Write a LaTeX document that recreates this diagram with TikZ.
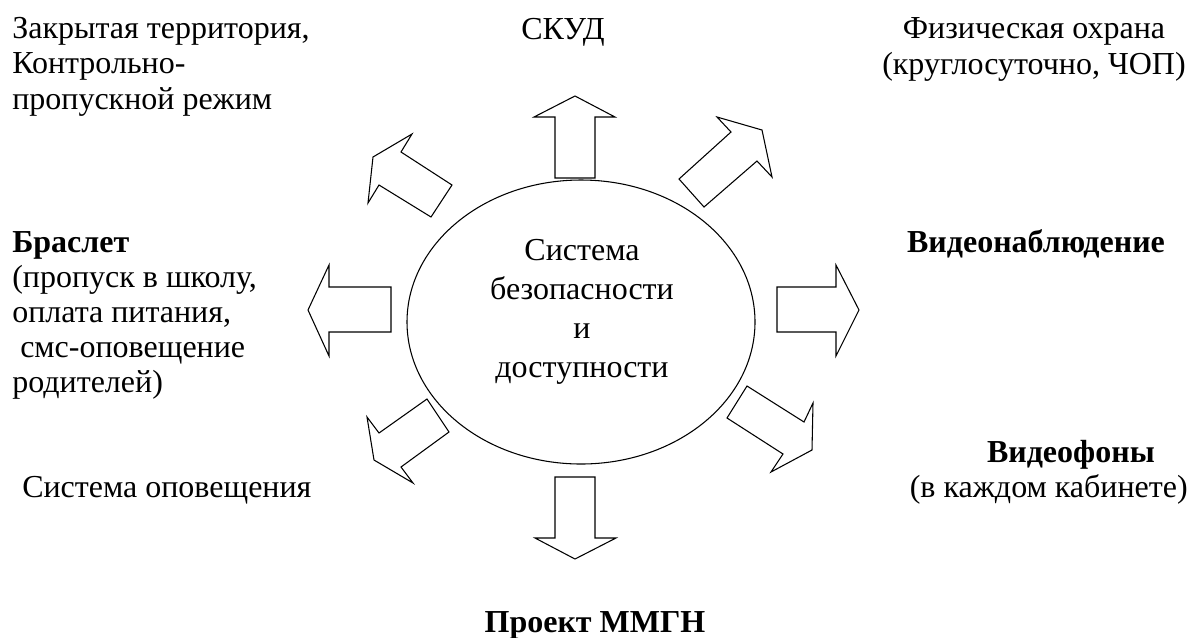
\documentclass[tikz,border=0pt]{standalone}
\usepackage{fontspec}
\setmainfont{Liberation Serif}
\usetikzlibrary{shapes.geometric}
\tikzset{
  lbl/.style={inner sep=0pt, font=\fontsize{24}{26.25}\selectfont, align=left},
  toprow/.style={lbl, font=\fontsize{24}{26.5}\selectfont},
  bigarrow/.style={draw, line width=0.8pt, line join=miter, fill=white},
}
\begin{document}
\begin{tikzpicture}[x=0.75pt,y=-0.75pt]
\useasboundingbox (0,0) rectangle (1192,637);
% central ellipse
\node[draw, line width=0.8pt, ellipse, inner sep=0pt, minimum width=261pt, minimum height=213pt] (c) at (581,322) {};
\node[lbl, align=center, anchor=base, font=\fontsize{24}{29.25}\selectfont] (ct) at (582,377) {Система\\безопасности\\и\\доступности};
% arrows
\draw[bigarrow] (555,178) -- (555,117) -- (534,117) -- (575,96) -- (615,117) -- (595,117) -- (595,178) -- cycle;
\draw[bigarrow] (555,477) -- (555,538) -- (535,538) -- (575,559) -- (616,538) -- (595,538) -- (595,477) -- cycle;
\draw[bigarrow] (391,287) -- (329,287) -- (329,265) -- (308,310) -- (329,356) -- (329,332) -- (391,332) -- cycle;
\draw[bigarrow] (777,287) -- (836,287) -- (836,265) -- (859,310) -- (836,356) -- (836,332) -- (777,332) -- cycle;
\draw[bigarrow] (452,185) -- (401,152) -- (412,134) -- (373,157) -- (368,203) -- (379,185) -- (431,217) -- cycle;
\draw[bigarrow] (679,179) -- (731,132) -- (717,117) -- (762,130) -- (772,177) -- (757,161) -- (704,207) -- cycle;
\draw[bigarrow] (427,399) -- (449,432) -- (401,467) -- (413,483) -- (374,460) -- (367,417) -- (379,433) -- cycle;
\draw[bigarrow] (747,386) -- (804,422) -- (813,403) -- (812,450) -- (771,472) -- (783,454) -- (727,418) -- cycle;
% labels
\node[toprow, anchor=base west] (t1) at (12,109) {Закрытая территория,\\Контрольно-\\пропускной режим};
\node[toprow, anchor=base] (t2) at (563,39) {СКУД};
\node[toprow, align=center, anchor=base] (t3) at (1034,74) {Физическая охрана\\(круглосуточно, ЧОП)};
\node[lbl, anchor=base west] (t4) at (12,392) {\textbf{Браслет}\\(пропуск в школу,\\оплата питания,\\\ смс-оповещение\\родителей)};
\node[lbl, anchor=base] (t5) at (1036,252) {\textbf{Видеонаблюдение}};
\node[lbl, anchor=base west] (t6) at (22,497) {Система оповещения};
\node[lbl, align=right, anchor=base east] (t7) at (1188,497) {\textbf{Видеофоны}\rule{24.75pt}{0pt}\\(в каждом кабинете)};
\node[lbl, anchor=base] (t8) at (595,632) {\textbf{Проект ММГН}};
\end{tikzpicture}
\end{document}
